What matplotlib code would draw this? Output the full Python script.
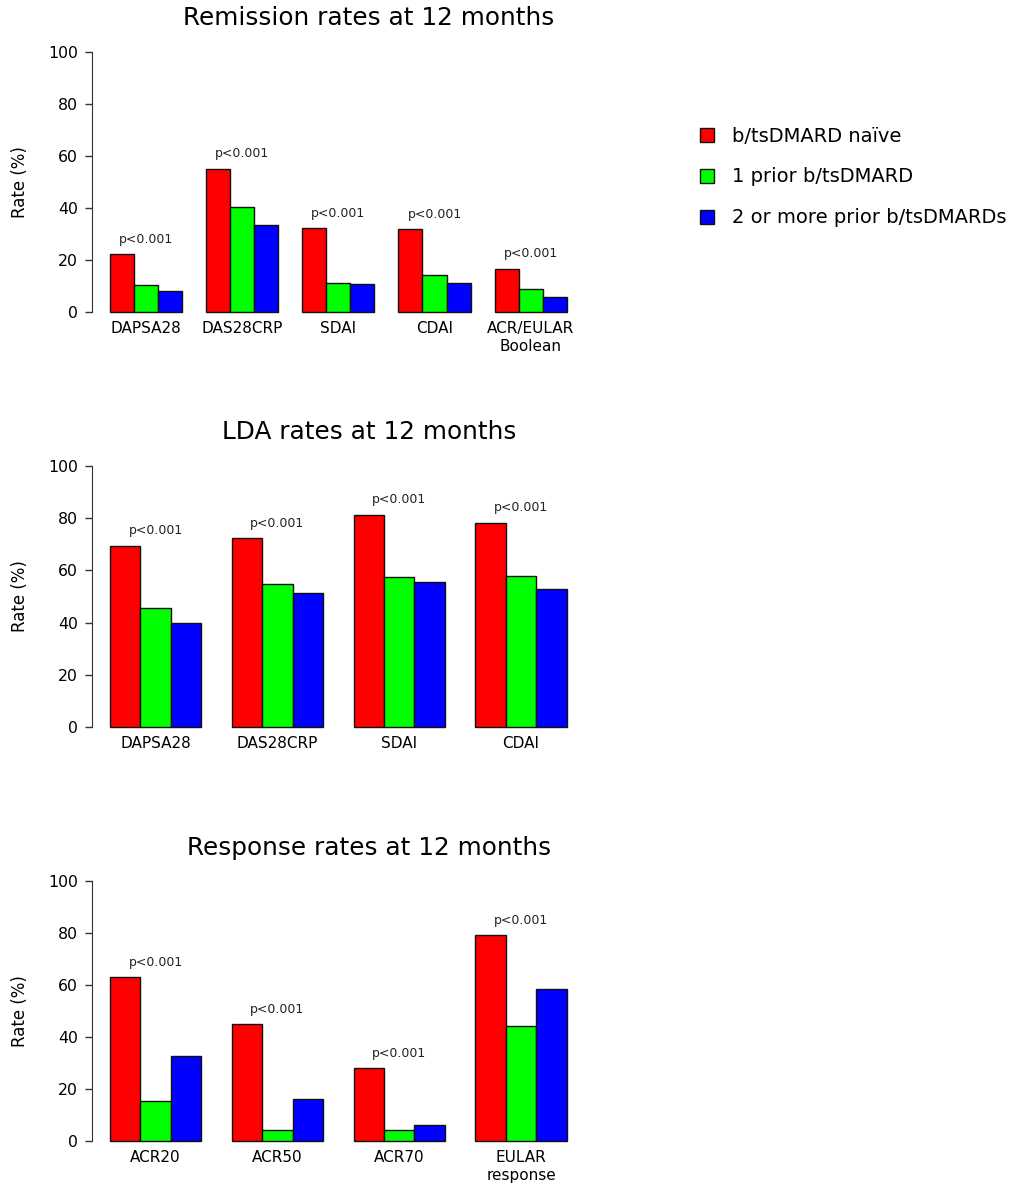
import matplotlib
matplotlib.use("Agg")
import matplotlib.pyplot as plt
from matplotlib.patches import Patch

# rates (%) per measure, for the three patient groups
remission_labels = ["DAPSA28", "DAS28CRP", "SDAI", "CDAI", "ACR/EULAR\nBoolean"]
remission_naive = [22.3, 55.1, 32.3, 31.8, 16.7]
remission_one = [10.5, 40.5, 11.3, 14.2, 9.0]
remission_two = [8.2, 33.6, 10.9, 11.3, 5.9]

lda_labels = ["DAPSA28", "DAS28CRP", "SDAI", "CDAI"]
lda_naive = [69.5, 72.3, 81.4, 78.3]
lda_one = [45.5, 54.9, 57.6, 58.0]
lda_two = [40.0, 51.3, 55.6, 52.9]

response_labels = ["ACR20", "ACR50", "ACR70", "EULAR\nresponse"]
response_naive = [63.2, 44.9, 28.2, 79.2]
response_one = [15.4, 4.3, 4.3, 44.3]
response_two = [32.7, 16.3, 6.0, 58.7]

p_text = "p<0.001"
group_names = ["b/tsDMARD naïve", "1 prior b/tsDMARD", "2 or more prior b/tsDMARDs"]
group_colors = ["#ff0000", "#00ff00", "#0000ff"]

W, H = 1012, 1189
fig = plt.figure(figsize=(W / 100, H / 100), dpi=100)


def barpanel(rect, title, labels, series):
    ax = fig.add_axes(rect)
    n = len(labels)
    # groups of three unit-width bars separated by one empty unit
    for j, vals in enumerate(series):
        xs = [1 + 4 * g + j + 0.5 for g in range(n)]
        ax.bar(xs, vals, width=1.0, color=group_colors[j],
               edgecolor="#111111", linewidth=1.0)
    centers = [1 + 4 * g + 1.5 for g in range(n)]
    for c, top in zip(centers, series[0]):
        ax.text(c, top + 5.7, p_text, ha="center", va="center",
                fontsize=9, color="#222222")
    right = 4 * n
    pad = 0.04 * (right - 1)
    ax.set_xlim(1 - pad, right + pad)
    ax.set_ylim(-4, 104)
    ax.set_xticks(centers)
    ax.set_xticklabels(labels, fontsize=11, linespacing=1.25)
    ax.tick_params(axis="x", length=0, pad=-1)
    ax.set_yticks([0, 20, 40, 60, 80, 100])
    ax.tick_params(axis="y", length=5, width=1, pad=5, labelsize=11.3,
                   color="#333333")
    for s in ("top", "right", "bottom"):
        ax.spines[s].set_visible(False)
    ax.spines["left"].set_bounds(0, 100)
    ax.spines["left"].set_color("#333333")
    ax.set_ylabel("Rate (%)", fontsize=12)
    ax.yaxis.set_label_coords(-0.127, 0.5)
    ax.patch.set_alpha(0)
    top_px = H * (1 - rect[1] - rect[3])
    fig.text(369 / W, 1 - (top_px - 23.5) / H, title, ha="center",
             va="center", fontsize=17.8)
    return ax


left = 91.7 / W
width = (585 - 91.7) / W
barpanel([left, 1 - 322.4 / H, width, 280.8 / H], "Remission rates at 12 months",
         remission_labels, [remission_naive, remission_one, remission_two])
barpanel([left, 1 - 737.1 / H, width, 281.2 / H], "LDA rates at 12 months",
         lda_labels, [lda_naive, lda_one, lda_two])
barpanel([left, 1 - 1151.4 / H, width, 280.4 / H], "Response rates at 12 months",
         response_labels, [response_naive, response_one, response_two])

handles = [Patch(facecolor=c, edgecolor="#111111", linewidth=1.0) for c in group_colors]
fig.legend(handles, group_names, loc="center left",
           bbox_to_anchor=(700 / W, 1 - 177 / H), frameon=False, fontsize=14,
           handlelength=0.72, handleheight=0.72, handletextpad=0.95,
           labelspacing=1.13, borderpad=0, borderaxespad=0)

fig.savefig("out.png", dpi=100, facecolor="white")
